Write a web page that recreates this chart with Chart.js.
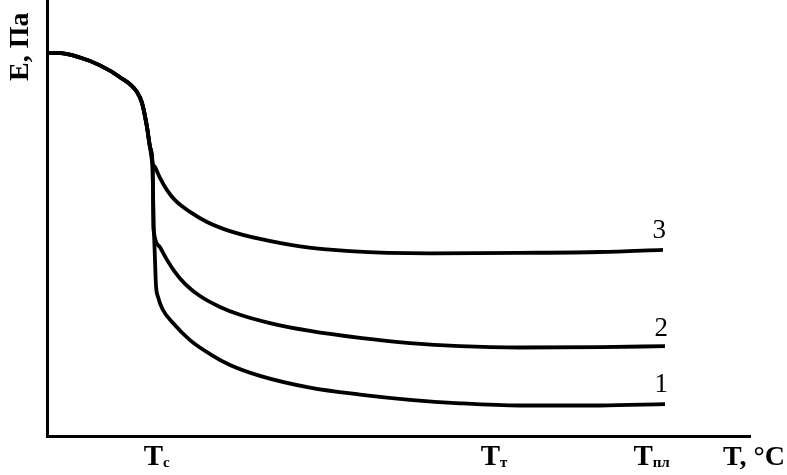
<!DOCTYPE html>
<html>
<head>
<meta charset="utf-8">
<script src="https://cdn.jsdelivr.net/npm/chart.js@4.4.1/dist/chart.umd.min.js"></script>
<style>
html,body{margin:0;padding:0;background:#fff;}
#wrap{width:787px;height:475px;}
</style>
</head>
<body>
<div id="wrap"><canvas id="c" width="787" height="475"></canvas></div>
<script>
// Temperature (arbitrary units) and modulus E (arbitrary units)
const sharedT = [0, 1.85, 4.69, 7.54, 10.38, 12.8, 13.51, 14.22, 14.65, 15.0];
const sharedE = [87.8, 87.8, 86.8, 85.0, 82.3, 78.9, 76.4, 70.9, 66.3, 62.6];

const curve3T = [15.36, 16.07, 17.07, 18.21, 20.34, 22.76, 26.03, 30.3, 35.99, 43.1, 54.48, 67.28, 78.66, 87.62];
const curve3E = [61.7, 59.2, 56.4, 54.1, 51.4, 49.1, 47.0, 45.2, 43.5, 42.4, 41.9, 42.0, 42.2, 42.7];

const curve2T = [15.08, 15.15, 15.22, 16.07, 17.07, 18.21, 19.63, 21.76, 24.61, 27.45, 31.72, 37.41, 44.52, 51.64, 58.75, 67.28, 78.66, 87.91];
const curve2E = [56.4, 48.4, 46.6, 43.3, 40.4, 37.6, 34.9, 32.1, 29.6, 27.8, 25.9, 24.1, 22.5, 21.3, 20.6, 20.3, 20.4, 20.6];

const curve1T = [15.08, 15.15, 15.22, 15.36, 15.5, 15.79, 16.5, 17.92, 20.34, 23.19, 26.03, 30.3, 37.41, 44.52, 51.64, 58.75, 67.28, 78.66, 87.91];
const curve1E = [56.4, 48.4, 46.6, 40.4, 34.6, 31.9, 28.9, 25.9, 22.0, 18.8, 16.3, 13.8, 11.1, 9.5, 8.3, 7.5, 7.0, 7.0, 7.3];

const curveLabels = ['1', '2', '3'];
const tickLabels = [['T', 'с'], ['T', 'т'], ['T', 'пл']];
const tickValues = [15.6, 63.6, 86.0];
const xTitle = 'T, °C';
const yTitle = 'E, Па';

function pts(ta, ea) { return ta.map((t, i) => ({x: t, y: ea[i]})); }
const shared = pts(sharedT, sharedE);
const d3 = shared.concat(pts(curve3T, curve3E));
const d2 = shared.concat(pts(curve2T, curve2E));
const d1 = shared.concat(pts(curve1T, curve1E));
const datasets = [d1, d2, d3];

const labelPlugin = {
  id: 'labels',
  afterDraw(chart) {
    const ctx = chart.ctx;
    const xs = chart.scales.x, ys = chart.scales.y;
    ctx.save();
    ctx.fillStyle = '#000';
    // curve numbers at line ends
    ctx.font = '27px "Liberation Serif"';
    ctx.textAlign = 'right';
    ctx.textBaseline = 'alphabetic';
    const offs = [12, 10, 12];
    datasets.forEach((d, i) => {
      const last = d[d.length - 1];
      ctx.fillText(curveLabels[i], xs.getPixelForValue(last.x) + 3, ys.getPixelForValue(last.y) - offs[i]);
    });
    // x tick labels with subscripts
    const baseY = 465;
    tickLabels.forEach((tl, i) => {
      ctx.font = 'bold 29px "Liberation Serif"';
      const wT = ctx.measureText(tl[0]).width;
      ctx.font = 'bold 15px "Liberation Serif"';
      const wS = ctx.measureText(tl[1]).width;
      const cx = xs.getPixelForValue(tickValues[i]);
      const x0 = cx - (wT + wS) / 2;
      ctx.textAlign = 'left';
      ctx.font = 'bold 29px "Liberation Serif"';
      ctx.fillText(tl[0], x0, baseY);
      ctx.font = 'bold 15px "Liberation Serif"';
      ctx.fillText(tl[1], x0 + wT, baseY + 2);
    });
    // axis titles
    ctx.font = 'bold 28px "Liberation Serif"';
    ctx.textAlign = 'left';
    ctx.fillText(xTitle, 723, baseY);
    ctx.translate(28, 81);
    ctx.rotate(-Math.PI / 2);
    ctx.fillText(yTitle, 0, 0);
    ctx.restore();
  }
};

new Chart(document.getElementById('c'), {
  type: 'line',
  data: {
    datasets: datasets.map((d, i) => ({
      label: curveLabels[i],
      data: d,
      borderColor: '#000',
      borderWidth: 3.8,
      pointRadius: 0,
      fill: false,
      cubicInterpolationMode: 'monotone',
      clip: false
    }))
  },
  options: {
    responsive: false,
    animation: false,
    devicePixelRatio: 1,
    layout: {padding: {left: 47, right: 37, top: 0, bottom: 39}},
    plugins: {legend: {display: false}, tooltip: {enabled: false}},
    scales: {
      x: {
        type: 'linear', min: 0, max: 100,
        ticks: {display: false},
        grid: {display: false, drawTicks: false},
        border: {display: true, color: '#000', width: 3},
        afterFit(s) { s.height = 0; }
      },
      y: {
        type: 'linear', min: 0, max: 100,
        ticks: {display: false},
        grid: {display: false, drawTicks: false},
        border: {display: true, color: '#000', width: 3},
        afterFit(s) { s.width = 0; }
      }
    }
  },
  plugins: [labelPlugin]
});
</script>
</body>
</html>
